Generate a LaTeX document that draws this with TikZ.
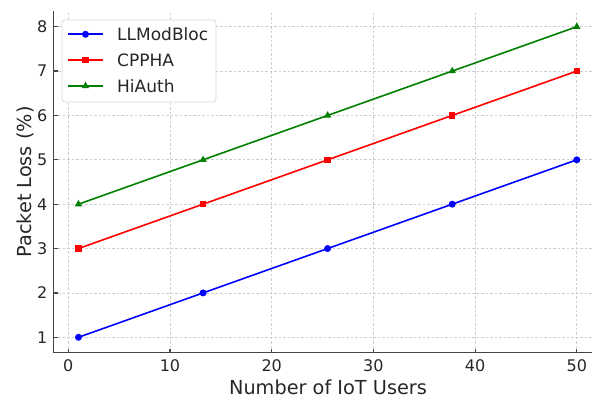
\documentclass[tikz,border=0pt]{standalone}
\usepackage{fontspec}
\setmainfont{DejaVu Sans}
\usetikzlibrary{shapes.geometric,calc,positioning}
\definecolor{mplgreen}{RGB}{0,128,0}
\definecolor{gridgray}{RGB}{205,205,205}
\definecolor{spinegray}{RGB}{70,70,70}
\definecolor{boxgray}{RGB}{215,215,215}
\tikzset{
    gridline/.style={gridgray, dash pattern=on 2.5pt off 2pt, line width=0.7pt},
    spine/.style={spinegray, line width=1.2pt},
    series/.style={line width=1.6pt},
    dot/.style={circle, fill, inner sep=0pt, minimum size=7pt},
    sq/.style={rectangle, fill, inner sep=0pt, minimum size=6.5pt},
    tri/.style={regular polygon, regular polygon sides=3, fill, inner sep=0pt, minimum size=8.5pt},
    ticklab/.style={inner sep=0pt, text=black!85, font=\fontsize{16}{16}\selectfont},
    axlab/.style={inner sep=0pt, text=black!85, font=\fontsize{19.3}{19.3}\selectfont},
    leglab/.style={inner sep=0pt, anchor=west, text=black!85, font=\fontsize{17}{17}\selectfont}
}

\begin{document}
\begin{tikzpicture}
\useasboundingbox (0,0) rectangle (592pt,398pt);

\begin{scope}[x=10.17pt, y=44.37pt, shift={(68.3pt,16.33pt)}]
    % grid and ticks
    \foreach \v in {0,10,...,50} {
        \draw[gridline] (\v,0.65) -- (\v,8.35);
        \draw[spine] (\v,0.65) -- ++(0,4pt);
        \node[ticklab, anchor=north] (xt\v) at ($(\v,0.65)+(0,-7pt)$) {\v};
    }
    \foreach \v in {1,...,8} {
        \draw[gridline] (-1.45,\v) -- (51.5,\v);
        \draw[spine] (-1.45,\v) -- ++(4pt,0);
        \node[ticklab, anchor=east] (yt\v) at ($(-1.45,\v)+(-6pt,0)$) {\v};
    }
    \draw[spine] (-1.45,8.35) -- (-1.45,0.65) -- (51.5,0.65);

    % data points
    \foreach \i in {1,...,5} {
        \pgfmathsetmacro{\xx}{1+12.25*(\i-1)}
        \node[dot, blue] (ll\i) at (\xx,\i) {};
        \node[sq, red] (cp\i) at (\xx,\i+2) {};
        \node[tri, mplgreen] (hi\i) at (\xx,\i+3) {};
    }
    \draw[series, blue] (ll1.center) \foreach \i in {2,...,5} {-- (ll\i.center)};
    \draw[series, red] (cp1.center) \foreach \i in {2,...,5} {-- (cp\i.center)};
    \draw[series, mplgreen] (hi1.center) \foreach \i in {2,...,5} {-- (hi\i.center)};
\end{scope}

% axis labels
\node[axlab, anchor=south] (xlab) at (328pt,3pt) {Number of IoT Users};
\node[axlab, rotate=90] (ylab) at (25pt,216pt) {Packet Loss (\%)};

% legend
\node[draw=boxgray, line width=0.8pt, rounded corners=3pt, fill=white,
      minimum width=154pt, minimum height=82pt] (legend) at (139pt,337pt) {};
\coordinate (l1) at (68pt,363.7pt);
\coordinate (l2) at (68pt,338pt);
\coordinate (l3) at (68pt,312pt);
\draw[series, blue] (l1) -- ++(35pt,0) node[dot, midway] (m1) {};
\draw[series, red] (l2) -- ++(35pt,0) node[sq, midway] (m2) {};
\draw[series, mplgreen] (l3) -- ++(35pt,0) node[tri, midway] (m3) {};
\node[leglab] (t1) at (117pt,363.7pt) {LLModBloc};
\node[leglab] (t2) at (117pt,338pt) {CPPHA};
\node[leglab] (t3) at (117pt,312pt) {HiAuth};
\end{tikzpicture}
\end{document}
